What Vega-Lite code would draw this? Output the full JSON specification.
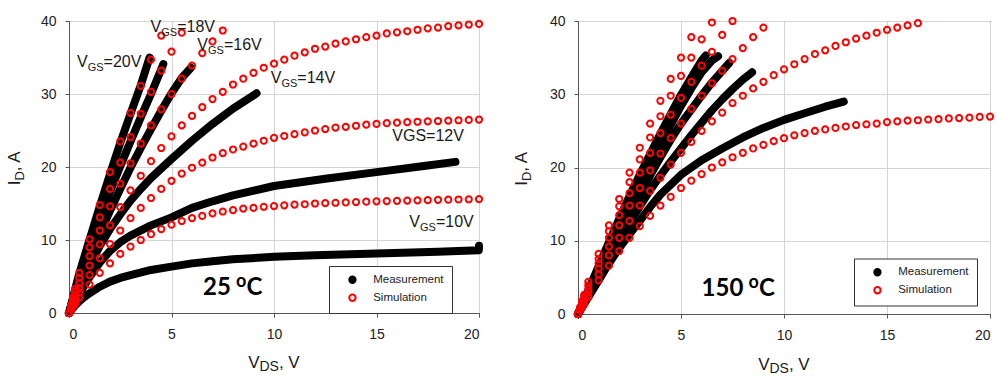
{
"$schema": "https://vega.github.io/schema/vega-lite/v6.json",
"background": "white",
"padding": {"left": 5, "top": 13, "right": 0, "bottom": 0},
"spacing": 25,
"config": {
  "view": {"stroke": "#222", "strokeWidth": 1},
  "axis": {"labelFont": "Liberation Sans", "labelFontSize": 14, "labelColor": "#222", "tickColor": "#555", "tickSize": 4, "domainColor": "#555", "gridColor": "#d4d4d4", "gridWidth": 1},
  "axisX": {"labelPadding": 10},
  "axisY": {"labelPadding": 9},
  "legend": {"padding": 8, "strokeColor": "#333", "fillColor": "white", "symbolOffset": 9.7, "labelOffset": 15, "labelFont": "Liberation Sans", "labelFontSize": 11.5, "labelColor": "#222", "symbolSize": 40, "symbolStrokeWidth": 2, "rowPadding": 3, "symbolType": "circle"}
},
"datasets": {
"meas": [
{"t":25,"g":10,"v":0,"i":0},{"t":25,"g":10,"v":0.25,"i":0.9},{"t":25,"g":10,"v":0.5,"i":1.6},{"t":25,"g":10,"v":0.75,"i":2.2},{"t":25,"g":10,"v":1,"i":2.7},{"t":25,"g":10,"v":1.5,"i":3.6},{"t":25,"g":10,"v":2,"i":4.3},{"t":25,"g":10,"v":2.5,"i":4.8},{"t":25,"g":10,"v":3,"i":5.2},{"t":25,"g":10,"v":4,"i":5.9},{"t":25,"g":10,"v":5,"i":6.35},{"t":25,"g":10,"v":6,"i":6.8},{"t":25,"g":10,"v":7,"i":7.1},{"t":25,"g":10,"v":8,"i":7.35},{"t":25,"g":10,"v":10,"i":7.7},{"t":25,"g":10,"v":12,"i":7.9},{"t":25,"g":10,"v":15,"i":8.15},{"t":25,"g":10,"v":18,"i":8.4},{"t":25,"g":10,"v":19.99,"i":8.6},{"t":25,"g":10,"v":20,"i":9.2},
{"t":25,"g":12,"v":0,"i":0},{"t":25,"g":12,"v":0.25,"i":1.3},{"t":25,"g":12,"v":0.5,"i":2.6},{"t":25,"g":12,"v":1,"i":4.9},{"t":25,"g":12,"v":1.5,"i":6.9},{"t":25,"g":12,"v":2,"i":8.5},{"t":25,"g":12,"v":2.5,"i":9.7},{"t":25,"g":12,"v":3,"i":10.6},{"t":25,"g":12,"v":4,"i":12.0},{"t":25,"g":12,"v":5,"i":13.1},{"t":25,"g":12,"v":6,"i":14.4},{"t":25,"g":12,"v":7,"i":15.3},{"t":25,"g":12,"v":8,"i":16.1},{"t":25,"g":12,"v":10,"i":17.4},{"t":25,"g":12,"v":12.5,"i":18.4},{"t":25,"g":12,"v":15,"i":19.3},{"t":25,"g":12,"v":17.5,"i":20.2},{"t":25,"g":12,"v":18.85,"i":20.7},
{"t":25,"g":14,"v":0,"i":0},{"t":25,"g":14,"v":0.5,"i":3.3},{"t":25,"g":14,"v":1,"i":6.4},{"t":25,"g":14,"v":1.5,"i":9.2},{"t":25,"g":14,"v":2,"i":11.5},{"t":25,"g":14,"v":2.5,"i":13.5},{"t":25,"g":14,"v":3,"i":15.4},{"t":25,"g":14,"v":3.5,"i":17.0},{"t":25,"g":14,"v":4,"i":18.5},{"t":25,"g":14,"v":5,"i":21.1},{"t":25,"g":14,"v":6,"i":23.6},{"t":25,"g":14,"v":7,"i":25.9},{"t":25,"g":14,"v":8,"i":28.0},{"t":25,"g":14,"v":9,"i":29.8},{"t":25,"g":14,"v":9.15,"i":30.1},
{"t":25,"g":16,"v":0,"i":0},{"t":25,"g":16,"v":0.5,"i":4.0},{"t":25,"g":16,"v":1,"i":7.5},{"t":25,"g":16,"v":1.5,"i":10.9},{"t":25,"g":16,"v":2,"i":14.0},{"t":25,"g":16,"v":2.5,"i":17.0},{"t":25,"g":16,"v":3,"i":19.9},{"t":25,"g":16,"v":3.5,"i":22.6},{"t":25,"g":16,"v":4,"i":25.2},{"t":25,"g":16,"v":4.5,"i":27.7},{"t":25,"g":16,"v":5,"i":30.1},{"t":25,"g":16,"v":5.5,"i":32.2},{"t":25,"g":16,"v":5.95,"i":33.6},
{"t":25,"g":18,"v":0,"i":0},{"t":25,"g":18,"v":0.5,"i":4.7},{"t":25,"g":18,"v":1,"i":8.8},{"t":25,"g":18,"v":1.5,"i":12.8},{"t":25,"g":18,"v":2,"i":16.6},{"t":25,"g":18,"v":2.5,"i":20.1},{"t":25,"g":18,"v":3,"i":23.5},{"t":25,"g":18,"v":3.5,"i":26.8},{"t":25,"g":18,"v":4,"i":30.0},{"t":25,"g":18,"v":4.5,"i":33.4},{"t":25,"g":18,"v":4.6,"i":34.1},
{"t":25,"g":20,"v":0,"i":0},{"t":25,"g":20,"v":0.5,"i":5.4},{"t":25,"g":20,"v":1,"i":10.0},{"t":25,"g":20,"v":1.5,"i":14.6},{"t":25,"g":20,"v":2,"i":19.0},{"t":25,"g":20,"v":2.5,"i":23.3},{"t":25,"g":20,"v":3,"i":27.3},{"t":25,"g":20,"v":3.5,"i":31.2},{"t":25,"g":20,"v":3.93,"i":35.0},
{"t":150,"g":12,"v":0,"i":0},{"t":150,"g":12,"v":0.5,"i":2.3},{"t":150,"g":12,"v":1,"i":4.6},{"t":150,"g":12,"v":1.5,"i":6.9},{"t":150,"g":12,"v":2,"i":9.0},{"t":150,"g":12,"v":2.5,"i":10.9},{"t":150,"g":12,"v":3,"i":12.7},{"t":150,"g":12,"v":3.5,"i":14.6},{"t":150,"g":12,"v":4,"i":16.3},{"t":150,"g":12,"v":5,"i":19.0},{"t":150,"g":12,"v":6,"i":21.0},{"t":150,"g":12,"v":7,"i":22.6},{"t":150,"g":12,"v":8,"i":24.1},{"t":150,"g":12,"v":9,"i":25.4},{"t":150,"g":12,"v":10,"i":26.5},{"t":150,"g":12,"v":11,"i":27.4},{"t":150,"g":12,"v":12,"i":28.3},{"t":150,"g":12,"v":12.9,"i":29.0},
{"t":150,"g":14,"v":0,"i":0},{"t":150,"g":14,"v":0.5,"i":2.5},{"t":150,"g":14,"v":1,"i":5.0},{"t":150,"g":14,"v":1.5,"i":7.5},{"t":150,"g":14,"v":2,"i":10.0},{"t":150,"g":14,"v":2.5,"i":12.4},{"t":150,"g":14,"v":3,"i":14.7},{"t":150,"g":14,"v":3.5,"i":16.9},{"t":150,"g":14,"v":4,"i":18.9},{"t":150,"g":14,"v":4.5,"i":20.8},{"t":150,"g":14,"v":5,"i":22.6},{"t":150,"g":14,"v":5.5,"i":24.4},{"t":150,"g":14,"v":6,"i":26.1},{"t":150,"g":14,"v":6.5,"i":27.8},{"t":150,"g":14,"v":7,"i":29.3},{"t":150,"g":14,"v":7.5,"i":30.7},{"t":150,"g":14,"v":8,"i":32.0},{"t":150,"g":14,"v":8.45,"i":33.0},
{"t":150,"g":16,"v":0,"i":0},{"t":150,"g":16,"v":0.5,"i":2.6},{"t":150,"g":16,"v":1,"i":5.3},{"t":150,"g":16,"v":1.5,"i":8.0},{"t":150,"g":16,"v":2,"i":10.8},{"t":150,"g":16,"v":2.5,"i":13.5},{"t":150,"g":16,"v":3,"i":16.2},{"t":150,"g":16,"v":3.5,"i":18.9},{"t":150,"g":16,"v":4,"i":21.4},{"t":150,"g":16,"v":4.5,"i":23.8},{"t":150,"g":16,"v":5,"i":26.0},{"t":150,"g":16,"v":5.5,"i":27.9},{"t":150,"g":16,"v":6,"i":29.8},{"t":150,"g":16,"v":6.5,"i":31.6},{"t":150,"g":16,"v":7,"i":33.2},{"t":150,"g":16,"v":7.35,"i":34.3},
{"t":150,"g":18,"v":0,"i":0},{"t":150,"g":18,"v":0.5,"i":2.9},{"t":150,"g":18,"v":1,"i":5.9},{"t":150,"g":18,"v":1.5,"i":8.9},{"t":150,"g":18,"v":2,"i":11.9},{"t":150,"g":18,"v":2.5,"i":14.8},{"t":150,"g":18,"v":3,"i":17.6},{"t":150,"g":18,"v":3.5,"i":20.4},{"t":150,"g":18,"v":4,"i":23.1},{"t":150,"g":18,"v":4.5,"i":25.8},{"t":150,"g":18,"v":5,"i":28.4},{"t":150,"g":18,"v":5.5,"i":30.8},{"t":150,"g":18,"v":6,"i":33.0},{"t":150,"g":18,"v":6.5,"i":34.6},{"t":150,"g":18,"v":6.8,"i":35.2},
{"t":150,"g":20,"v":0,"i":0},{"t":150,"g":20,"v":0.5,"i":3.2},{"t":150,"g":20,"v":1,"i":6.5},{"t":150,"g":20,"v":1.5,"i":9.8},{"t":150,"g":20,"v":2,"i":13.0},{"t":150,"g":20,"v":2.5,"i":16.1},{"t":150,"g":20,"v":3,"i":19.0},{"t":150,"g":20,"v":3.5,"i":21.8},{"t":150,"g":20,"v":4,"i":24.6},{"t":150,"g":20,"v":4.5,"i":27.3},{"t":150,"g":20,"v":5,"i":29.9},{"t":150,"g":20,"v":5.5,"i":32.3},{"t":150,"g":20,"v":6,"i":34.6},{"t":150,"g":20,"v":6.2,"i":35.3}
],
"sim": [
{"t":25,"g":10,"v":0,"i":0},{"t":25,"g":10,"v":0.1,"i":0.45},{"t":25,"g":10,"v":0.2,"i":0.9},{"t":25,"g":10,"v":0.3,"i":1.3},{"t":25,"g":10,"v":0.5,"i":2.1},{"t":25,"g":10,"v":1,"i":3.9},{"t":25,"g":10,"v":1.5,"i":5.5},{"t":25,"g":10,"v":2,"i":6.8},{"t":25,"g":10,"v":2.5,"i":8.1},{"t":25,"g":10,"v":3,"i":9.1},{"t":25,"g":10,"v":3.5,"i":10.0},{"t":25,"g":10,"v":4,"i":10.8},{"t":25,"g":10,"v":4.5,"i":11.5},{"t":25,"g":10,"v":5,"i":12.1},{"t":25,"g":10,"v":5.5,"i":12.6},{"t":25,"g":10,"v":6,"i":13.0},{"t":25,"g":10,"v":6.5,"i":13.3},{"t":25,"g":10,"v":7,"i":13.65},{"t":25,"g":10,"v":7.5,"i":13.9},{"t":25,"g":10,"v":8,"i":14.1},{"t":25,"g":10,"v":8.5,"i":14.3},{"t":25,"g":10,"v":9,"i":14.4},{"t":25,"g":10,"v":9.5,"i":14.55},{"t":25,"g":10,"v":10,"i":14.65},{"t":25,"g":10,"v":10.5,"i":14.75},{"t":25,"g":10,"v":11,"i":14.85},{"t":25,"g":10,"v":11.5,"i":14.9},{"t":25,"g":10,"v":12,"i":15.0},{"t":25,"g":10,"v":12.5,"i":15.05},{"t":25,"g":10,"v":13,"i":15.1},{"t":25,"g":10,"v":13.5,"i":15.15},{"t":25,"g":10,"v":14,"i":15.2},{"t":25,"g":10,"v":14.5,"i":15.25},{"t":25,"g":10,"v":15,"i":15.3},{"t":25,"g":10,"v":15.5,"i":15.33},{"t":25,"g":10,"v":16,"i":15.37},{"t":25,"g":10,"v":16.5,"i":15.4},{"t":25,"g":10,"v":17,"i":15.43},{"t":25,"g":10,"v":17.5,"i":15.46},{"t":25,"g":10,"v":18,"i":15.5},{"t":25,"g":10,"v":18.5,"i":15.52},{"t":25,"g":10,"v":19,"i":15.55},{"t":25,"g":10,"v":19.5,"i":15.58},{"t":25,"g":10,"v":20,"i":15.6},
{"t":25,"g":12,"v":0,"i":0},{"t":25,"g":12,"v":0.1,"i":0.6},{"t":25,"g":12,"v":0.2,"i":1.15},{"t":25,"g":12,"v":0.3,"i":1.7},{"t":25,"g":12,"v":0.5,"i":2.8},{"t":25,"g":12,"v":1,"i":5.2},{"t":25,"g":12,"v":1.5,"i":7.5},{"t":25,"g":12,"v":2,"i":9.45},{"t":25,"g":12,"v":2.5,"i":11.3},{"t":25,"g":12,"v":3,"i":13.0},{"t":25,"g":12,"v":3.5,"i":14.4},{"t":25,"g":12,"v":4,"i":15.75},{"t":25,"g":12,"v":4.5,"i":17.0},{"t":25,"g":12,"v":5,"i":18.1},{"t":25,"g":12,"v":5.5,"i":19.1},{"t":25,"g":12,"v":6,"i":19.9},{"t":25,"g":12,"v":6.5,"i":20.6},{"t":25,"g":12,"v":7,"i":21.3},{"t":25,"g":12,"v":7.5,"i":21.9},{"t":25,"g":12,"v":8,"i":22.4},{"t":25,"g":12,"v":8.5,"i":22.8},{"t":25,"g":12,"v":9,"i":23.2},{"t":25,"g":12,"v":9.5,"i":23.6},{"t":25,"g":12,"v":10,"i":24.0},{"t":25,"g":12,"v":10.5,"i":24.25},{"t":25,"g":12,"v":11,"i":24.5},{"t":25,"g":12,"v":11.5,"i":24.75},{"t":25,"g":12,"v":12,"i":25.0},{"t":25,"g":12,"v":12.5,"i":25.2},{"t":25,"g":12,"v":13,"i":25.4},{"t":25,"g":12,"v":13.5,"i":25.5},{"t":25,"g":12,"v":14,"i":25.65},{"t":25,"g":12,"v":14.5,"i":25.8},{"t":25,"g":12,"v":15,"i":25.9},{"t":25,"g":12,"v":15.5,"i":26.0},{"t":25,"g":12,"v":16,"i":26.07},{"t":25,"g":12,"v":16.5,"i":26.15},{"t":25,"g":12,"v":17,"i":26.2},{"t":25,"g":12,"v":17.5,"i":26.25},{"t":25,"g":12,"v":18,"i":26.3},{"t":25,"g":12,"v":18.5,"i":26.35},{"t":25,"g":12,"v":19,"i":26.4},{"t":25,"g":12,"v":19.5,"i":26.45},{"t":25,"g":12,"v":20,"i":26.5},
{"t":25,"g":14,"v":0,"i":0},{"t":25,"g":14,"v":0.1,"i":0.7},{"t":25,"g":14,"v":0.2,"i":1.4},{"t":25,"g":14,"v":0.3,"i":2.1},{"t":25,"g":14,"v":0.5,"i":3.4},{"t":25,"g":14,"v":1,"i":6.5},{"t":25,"g":14,"v":1.5,"i":9.4},{"t":25,"g":14,"v":2,"i":12.0},{"t":25,"g":14,"v":2.5,"i":14.5},{"t":25,"g":14,"v":3,"i":16.8},{"t":25,"g":14,"v":3.5,"i":18.8},{"t":25,"g":14,"v":4,"i":20.8},{"t":25,"g":14,"v":4.5,"i":22.6},{"t":25,"g":14,"v":5,"i":24.2},{"t":25,"g":14,"v":5.5,"i":25.7},{"t":25,"g":14,"v":6,"i":27.0},{"t":25,"g":14,"v":6.5,"i":28.2},{"t":25,"g":14,"v":7,"i":29.3},{"t":25,"g":14,"v":7.5,"i":30.3},{"t":25,"g":14,"v":8,"i":31.3},{"t":25,"g":14,"v":8.5,"i":32.1},{"t":25,"g":14,"v":9,"i":32.9},{"t":25,"g":14,"v":9.5,"i":33.6},{"t":25,"g":14,"v":10,"i":34.15},{"t":25,"g":14,"v":10.5,"i":34.7},{"t":25,"g":14,"v":11,"i":35.25},{"t":25,"g":14,"v":11.5,"i":35.7},{"t":25,"g":14,"v":12,"i":36.2},{"t":25,"g":14,"v":12.5,"i":36.5},{"t":25,"g":14,"v":13,"i":36.9},{"t":25,"g":14,"v":13.5,"i":37.2},{"t":25,"g":14,"v":14,"i":37.5},{"t":25,"g":14,"v":14.5,"i":37.8},{"t":25,"g":14,"v":15,"i":38.0},{"t":25,"g":14,"v":15.5,"i":38.3},{"t":25,"g":14,"v":16,"i":38.45},{"t":25,"g":14,"v":16.5,"i":38.6},{"t":25,"g":14,"v":17,"i":38.8},{"t":25,"g":14,"v":17.5,"i":39.0},{"t":25,"g":14,"v":18,"i":39.1},{"t":25,"g":14,"v":18.5,"i":39.3},{"t":25,"g":14,"v":19,"i":39.4},{"t":25,"g":14,"v":19.5,"i":39.5},{"t":25,"g":14,"v":20,"i":39.6},
{"t":25,"g":16,"v":0,"i":0},{"t":25,"g":16,"v":0.1,"i":0.85},{"t":25,"g":16,"v":0.2,"i":1.7},{"t":25,"g":16,"v":0.3,"i":2.5},{"t":25,"g":16,"v":0.5,"i":4.1},{"t":25,"g":16,"v":1,"i":7.8},{"t":25,"g":16,"v":1.5,"i":11.3},{"t":25,"g":16,"v":2,"i":14.6},{"t":25,"g":16,"v":2.5,"i":17.7},{"t":25,"g":16,"v":3,"i":20.5},{"t":25,"g":16,"v":3.5,"i":23.2},{"t":25,"g":16,"v":4,"i":25.7},{"t":25,"g":16,"v":4.5,"i":27.9},{"t":25,"g":16,"v":5,"i":30.0},{"t":25,"g":16,"v":5.5,"i":32.1},{"t":25,"g":16,"v":6,"i":33.9},{"t":25,"g":16,"v":6.5,"i":35.6},{"t":25,"g":16,"v":7,"i":37.2},{"t":25,"g":16,"v":7.5,"i":38.7},
{"t":25,"g":18,"v":0,"i":0},{"t":25,"g":18,"v":0.1,"i":1.0},{"t":25,"g":18,"v":0.2,"i":1.95},{"t":25,"g":18,"v":0.3,"i":2.9},{"t":25,"g":18,"v":0.5,"i":4.8},{"t":25,"g":18,"v":1,"i":9.0},{"t":25,"g":18,"v":1.5,"i":13.1},{"t":25,"g":18,"v":2,"i":17.0},{"t":25,"g":18,"v":2.5,"i":20.6},{"t":25,"g":18,"v":3,"i":24.1},{"t":25,"g":18,"v":3.5,"i":27.3},{"t":25,"g":18,"v":4,"i":30.3},{"t":25,"g":18,"v":4.5,"i":33.2},{"t":25,"g":18,"v":5,"i":35.8},{"t":25,"g":18,"v":5.5,"i":38.4},
{"t":25,"g":20,"v":0,"i":0},{"t":25,"g":20,"v":0.1,"i":1.1},{"t":25,"g":20,"v":0.2,"i":2.2},{"t":25,"g":20,"v":0.3,"i":3.3},{"t":25,"g":20,"v":0.5,"i":5.5},{"t":25,"g":20,"v":1,"i":10.1},{"t":25,"g":20,"v":1.5,"i":14.8},{"t":25,"g":20,"v":2,"i":19.3},{"t":25,"g":20,"v":2.5,"i":23.5},{"t":25,"g":20,"v":3,"i":27.4},{"t":25,"g":20,"v":3.5,"i":31.1},{"t":25,"g":20,"v":4,"i":34.7},{"t":25,"g":20,"v":4.5,"i":38.0},
{"t":150,"g":10,"v":0,"i":0},{"t":150,"g":10,"v":0.1,"i":0.45},{"t":150,"g":10,"v":0.2,"i":0.9},{"t":150,"g":10,"v":0.3,"i":1.4},{"t":150,"g":10,"v":0.5,"i":2.3},{"t":150,"g":10,"v":1,"i":4.6},{"t":150,"g":10,"v":1.5,"i":6.6},{"t":150,"g":10,"v":2,"i":8.6},{"t":150,"g":10,"v":2.5,"i":10.4},{"t":150,"g":10,"v":3,"i":12.0},{"t":150,"g":10,"v":3.5,"i":13.4},{"t":150,"g":10,"v":4,"i":14.8},{"t":150,"g":10,"v":4.5,"i":16.0},{"t":150,"g":10,"v":5,"i":17.2},{"t":150,"g":10,"v":5.5,"i":18.2},{"t":150,"g":10,"v":6,"i":19.1},{"t":150,"g":10,"v":6.5,"i":20.0},{"t":150,"g":10,"v":7,"i":20.7},{"t":150,"g":10,"v":7.5,"i":21.4},{"t":150,"g":10,"v":8,"i":22.0},{"t":150,"g":10,"v":8.5,"i":22.6},{"t":150,"g":10,"v":9,"i":23.1},{"t":150,"g":10,"v":9.5,"i":23.6},{"t":150,"g":10,"v":10,"i":24.0},{"t":150,"g":10,"v":10.5,"i":24.4},{"t":150,"g":10,"v":11,"i":24.7},{"t":150,"g":10,"v":11.5,"i":25.0},{"t":150,"g":10,"v":12,"i":25.2},{"t":150,"g":10,"v":12.5,"i":25.4},{"t":150,"g":10,"v":13,"i":25.6},{"t":150,"g":10,"v":13.5,"i":25.8},{"t":150,"g":10,"v":14,"i":25.9},{"t":150,"g":10,"v":14.5,"i":26.0},{"t":150,"g":10,"v":15,"i":26.2},{"t":150,"g":10,"v":15.5,"i":26.3},{"t":150,"g":10,"v":16,"i":26.4},{"t":150,"g":10,"v":16.5,"i":26.45},{"t":150,"g":10,"v":17,"i":26.55},{"t":150,"g":10,"v":17.5,"i":26.6},{"t":150,"g":10,"v":18,"i":26.7},{"t":150,"g":10,"v":18.5,"i":26.75},{"t":150,"g":10,"v":19,"i":26.8},{"t":150,"g":10,"v":19.5,"i":26.9},{"t":150,"g":10,"v":20,"i":26.95},
{"t":150,"g":12,"v":0,"i":0},{"t":150,"g":12,"v":0.1,"i":0.55},{"t":150,"g":12,"v":0.2,"i":1.05},{"t":150,"g":12,"v":0.3,"i":1.6},{"t":150,"g":12,"v":0.5,"i":2.6},{"t":150,"g":12,"v":1,"i":5.4},{"t":150,"g":12,"v":1.5,"i":8.0},{"t":150,"g":12,"v":2,"i":10.4},{"t":150,"g":12,"v":2.5,"i":12.7},{"t":150,"g":12,"v":3,"i":14.8},{"t":150,"g":12,"v":3.5,"i":16.8},{"t":150,"g":12,"v":4,"i":18.6},{"t":150,"g":12,"v":4.5,"i":20.4},{"t":150,"g":12,"v":5,"i":22.0},{"t":150,"g":12,"v":5.5,"i":23.5},{"t":150,"g":12,"v":6,"i":25.0},{"t":150,"g":12,"v":6.5,"i":26.3},{"t":150,"g":12,"v":7,"i":27.5},{"t":150,"g":12,"v":7.5,"i":28.8},{"t":150,"g":12,"v":8,"i":29.8},{"t":150,"g":12,"v":8.5,"i":30.8},{"t":150,"g":12,"v":9,"i":31.7},{"t":150,"g":12,"v":9.5,"i":32.6},{"t":150,"g":12,"v":10,"i":33.4},{"t":150,"g":12,"v":10.5,"i":34.1},{"t":150,"g":12,"v":11,"i":34.8},{"t":150,"g":12,"v":11.5,"i":35.5},{"t":150,"g":12,"v":12,"i":36.0},{"t":150,"g":12,"v":12.5,"i":36.6},{"t":150,"g":12,"v":13,"i":37.1},{"t":150,"g":12,"v":13.5,"i":37.6},{"t":150,"g":12,"v":14,"i":38.0},{"t":150,"g":12,"v":14.5,"i":38.4},{"t":150,"g":12,"v":15,"i":38.8},{"t":150,"g":12,"v":15.5,"i":39.1},{"t":150,"g":12,"v":16,"i":39.4},{"t":150,"g":12,"v":16.5,"i":39.7},
{"t":150,"g":14,"v":0,"i":0},{"t":150,"g":14,"v":0.1,"i":0.6},{"t":150,"g":14,"v":0.2,"i":1.2},{"t":150,"g":14,"v":0.3,"i":1.8},{"t":150,"g":14,"v":0.5,"i":3.0},{"t":150,"g":14,"v":1,"i":6.2},{"t":150,"g":14,"v":1.5,"i":9.2},{"t":150,"g":14,"v":2,"i":12.1},{"t":150,"g":14,"v":2.5,"i":14.8},{"t":150,"g":14,"v":3,"i":17.2},{"t":150,"g":14,"v":3.5,"i":19.6},{"t":150,"g":14,"v":4,"i":21.9},{"t":150,"g":14,"v":4.5,"i":24.0},{"t":150,"g":14,"v":5,"i":26.0},{"t":150,"g":14,"v":5.5,"i":28.0},{"t":150,"g":14,"v":6,"i":29.8},{"t":150,"g":14,"v":6.5,"i":31.5},{"t":150,"g":14,"v":7,"i":33.2},{"t":150,"g":14,"v":7.5,"i":34.8},{"t":150,"g":14,"v":8,"i":36.3},{"t":150,"g":14,"v":8.5,"i":37.8},{"t":150,"g":14,"v":9,"i":39.1},
{"t":150,"g":16,"v":0,"i":0},{"t":150,"g":16,"v":0.1,"i":0.7},{"t":150,"g":16,"v":0.2,"i":1.4},{"t":150,"g":16,"v":0.3,"i":2.1},{"t":150,"g":16,"v":0.5,"i":3.4},{"t":150,"g":16,"v":1,"i":6.9},{"t":150,"g":16,"v":1.5,"i":10.4},{"t":150,"g":16,"v":2,"i":13.5},{"t":150,"g":16,"v":2.5,"i":16.5},{"t":150,"g":16,"v":3,"i":19.3},{"t":150,"g":16,"v":3.5,"i":22.0},{"t":150,"g":16,"v":4,"i":24.7},{"t":150,"g":16,"v":4.5,"i":27.2},{"t":150,"g":16,"v":5,"i":29.5},{"t":150,"g":16,"v":5.5,"i":31.7},{"t":150,"g":16,"v":6,"i":33.9},{"t":150,"g":16,"v":6.5,"i":35.8},{"t":150,"g":16,"v":7,"i":38.1},{"t":150,"g":16,"v":7.5,"i":40.0},
{"t":150,"g":18,"v":0,"i":0},{"t":150,"g":18,"v":0.1,"i":0.8},{"t":150,"g":18,"v":0.2,"i":1.55},{"t":150,"g":18,"v":0.3,"i":2.35},{"t":150,"g":18,"v":0.5,"i":3.9},{"t":150,"g":18,"v":1,"i":7.5},{"t":150,"g":18,"v":1.5,"i":11.3},{"t":150,"g":18,"v":2,"i":14.7},{"t":150,"g":18,"v":2.5,"i":18.0},{"t":150,"g":18,"v":3,"i":21.1},{"t":150,"g":18,"v":3.5,"i":24.1},{"t":150,"g":18,"v":4,"i":27.0},{"t":150,"g":18,"v":4.5,"i":29.8},{"t":150,"g":18,"v":5,"i":32.5},{"t":150,"g":18,"v":5.5,"i":35.0},{"t":150,"g":18,"v":6,"i":37.5},{"t":150,"g":18,"v":6.5,"i":39.8},
{"t":150,"g":20,"v":0,"i":0},{"t":150,"g":20,"v":0.1,"i":0.9},{"t":150,"g":20,"v":0.2,"i":1.75},{"t":150,"g":20,"v":0.3,"i":2.6},{"t":150,"g":20,"v":0.5,"i":4.4},{"t":150,"g":20,"v":1,"i":8.2},{"t":150,"g":20,"v":1.5,"i":12.1},{"t":150,"g":20,"v":2,"i":15.7},{"t":150,"g":20,"v":2.5,"i":19.3},{"t":150,"g":20,"v":3,"i":22.7},{"t":150,"g":20,"v":3.5,"i":26.0},{"t":150,"g":20,"v":4,"i":29.1},{"t":150,"g":20,"v":4.5,"i":32.1},{"t":150,"g":20,"v":5,"i":35.0},{"t":150,"g":20,"v":5.5,"i":37.8}
],
"lab": [
{"v":0.39,"i":33.7,"p":"V","s":"GS","q":"=20V"},
{"v":3.98,"i":38.5,"p":"V","s":"GS","q":"=18V"},
{"v":6.26,"i":36.0,"p":"V","s":"GS","q":"=16V"},
{"v":9.84,"i":31.5,"p":"V","s":"GS","q":"=14V"},
{"v":15.77,"i":23.5,"p":"VGS=12V","s":"","q":""},
{"v":16.6,"i":11.8,"p":"V","s":"GS","q":"=10V"}
],
"temp": [
{"t":25,"v":6.54,"i":2.47,"n":"25"},
{"t":150,"v":6.0,"i":2.5,"n":"150"}
],
"xt": [{"t":25,"v":10,"i":-7.5},{"t":150,"v":10,"i":-7.6}],
"yt": [{"t":25,"v":-2.39,"i":17.5},{"t":150,"v":-2.46,"i":17.5}]
},
"resolve": {"scale": {"fill": "independent", "stroke": "independent"}, "legend": {"fill": "independent", "stroke": "independent"}},
"hconcat": [
{
 "width": 410, "height": 292,
 "encoding": {
  "x": {"field": "v", "type": "quantitative", "scale": {"domain": [0, 20], "nice": false, "zero": false}, "axis": {"values": [0, 5, 10, 15, 20], "grid": true, "title": null}},
  "y": {"field": "i", "type": "quantitative", "scale": {"domain": [0, 40], "nice": false}, "axis": {"values": [0, 10, 20, 30, 40], "grid": true, "title": null}}
 },
 "layer": [
  {"data": {"name": "meas"}, "transform": [{"filter": "datum.t == 25"}], "mark": {"type": "line", "color": "black", "strokeWidth": 8, "strokeCap": "round", "strokeJoin": "round"}, "encoding": {"detail": {"field": "g", "type": "nominal"}}},
  {"data": {"name": "sim"}, "transform": [{"filter": "datum.t == 25"}], "mark": {"type": "point", "shape": "circle", "size": 38, "strokeWidth": 2, "filled": true, "opacity": 1},
   "encoding": {
    "fill": {"datum": "Simulation", "type": "nominal", "scale": {"domain": ["Measurement", "Simulation"], "range": ["black", "transparent"]}, "legend": {"title": null, "orient": "none", "legendX": 260, "legendY": 245}},
    "stroke": {"datum": "Simulation", "type": "nominal", "scale": {"domain": ["Measurement", "Simulation"], "range": ["black", "red"]}, "legend": {"title": null, "orient": "none", "legendX": 260, "legendY": 245}}
   }},
  {"data": {"name": "lab"}, "mark": {"type": "text", "align": "left", "baseline": "alphabetic", "font": "Liberation Sans", "fontSize": 16, "color": "#1a1a1a"}, "encoding": {"text": {"field": "p"}}},
  {"data": {"name": "lab"}, "mark": {"type": "text", "align": "left", "baseline": "alphabetic", "font": "Liberation Sans", "fontSize": 11, "dx": 10.7, "dy": 4, "color": "#1a1a1a"}, "encoding": {"text": {"field": "s"}}},
  {"data": {"name": "lab"}, "mark": {"type": "text", "align": "left", "baseline": "alphabetic", "font": "Liberation Sans", "fontSize": 16, "dx": 26.6, "color": "#1a1a1a"}, "encoding": {"text": {"field": "q"}}},
  {"data": {"name": "temp"}, "transform": [{"filter": "datum.t == 25"}], "mark": {"type": "text", "align": "left", "baseline": "alphabetic", "font": "Lato", "fontWeight": "bold", "fontSize": 24, "color": "black"}, "encoding": {"text": {"field": "n"}}},
  {"data": {"name": "temp"}, "transform": [{"filter": "datum.t == 25"}], "mark": {"type": "text", "text": "o", "align": "left", "baseline": "alphabetic", "font": "Lato", "fontWeight": "bold", "fontSize": 18, "dx": 33, "dy": -8, "color": "black"}},
  {"data": {"name": "temp"}, "transform": [{"filter": "datum.t == 25"}], "mark": {"type": "text", "text": "C", "align": "left", "baseline": "alphabetic", "font": "Lato", "fontWeight": "bold", "fontSize": 24, "dx": 43.5, "color": "black"}},
  {"data": {"name": "yt"}, "transform": [{"filter": "datum.t == 25"}], "mark": {"type": "text", "text": "I", "angle": 270, "align": "left", "baseline": "alphabetic", "font": "Liberation Sans", "fontSize": 17, "color": "#1a1a1a"}},
  {"data": {"name": "yt"}, "transform": [{"filter": "datum.t == 25"}], "mark": {"type": "text", "text": "D", "angle": 270, "align": "left", "baseline": "alphabetic", "font": "Liberation Sans", "fontSize": 13, "dx": 4.7, "dy": 4, "color": "#1a1a1a"}},
  {"data": {"name": "yt"}, "transform": [{"filter": "datum.t == 25"}], "mark": {"type": "text", "text": ", A", "angle": 270, "align": "left", "baseline": "alphabetic", "font": "Liberation Sans", "fontSize": 17, "dx": 14.1, "color": "#1a1a1a"}},
  {"data": {"name": "xt"}, "transform": [{"filter": "datum.t == 25"}], "mark": {"type": "text", "text": "V", "align": "left", "baseline": "alphabetic", "font": "Liberation Sans", "fontSize": 17, "dx": -25.8, "color": "#1a1a1a"}},
  {"data": {"name": "xt"}, "transform": [{"filter": "datum.t == 25"}], "mark": {"type": "text", "text": "DS", "align": "left", "baseline": "alphabetic", "font": "Liberation Sans", "fontSize": 14, "dx": -14.5, "dy": 3, "color": "#1a1a1a"}},
  {"data": {"name": "xt"}, "transform": [{"filter": "datum.t == 25"}], "mark": {"type": "text", "text": ", V", "align": "left", "baseline": "alphabetic", "font": "Liberation Sans", "fontSize": 17, "dx": 4.9, "color": "#1a1a1a"}}
 ]
},
{
 "width": 412, "height": 293,
 "encoding": {
  "x": {"field": "v", "type": "quantitative", "scale": {"domain": [0, 20], "nice": false, "zero": false}, "axis": {"values": [0, 5, 10, 15, 20], "grid": true, "title": null}},
  "y": {"field": "i", "type": "quantitative", "scale": {"domain": [0, 40], "nice": false}, "axis": {"values": [0, 10, 20, 30, 40], "grid": true, "title": null}}
 },
 "layer": [
  {"data": {"name": "meas"}, "transform": [{"filter": "datum.t == 150"}], "mark": {"type": "line", "color": "black", "strokeWidth": 8, "strokeCap": "round", "strokeJoin": "round"}, "encoding": {"detail": {"field": "g", "type": "nominal"}}},
  {"data": {"name": "sim"}, "transform": [{"filter": "datum.t == 150"}], "mark": {"type": "point", "shape": "circle", "size": 38, "strokeWidth": 2, "filled": true, "opacity": 1},
   "encoding": {
    "fill": {"datum": "Simulation", "type": "nominal", "scale": {"domain": ["Measurement", "Simulation"], "range": ["black", "transparent"]}, "legend": {"title": null, "orient": "none", "legendX": 276, "legendY": 237.5}},
    "stroke": {"datum": "Simulation", "type": "nominal", "scale": {"domain": ["Measurement", "Simulation"], "range": ["black", "red"]}, "legend": {"title": null, "orient": "none", "legendX": 276, "legendY": 237.5}}
   }},
  {"data": {"name": "temp"}, "transform": [{"filter": "datum.t == 150"}], "mark": {"type": "text", "align": "left", "baseline": "alphabetic", "font": "Lato", "fontWeight": "bold", "fontSize": 24, "color": "black"}, "encoding": {"text": {"field": "n"}}},
  {"data": {"name": "temp"}, "transform": [{"filter": "datum.t == 150"}], "mark": {"type": "text", "text": "o", "align": "left", "baseline": "alphabetic", "font": "Lato", "fontWeight": "bold", "fontSize": 18, "dx": 47, "dy": -8, "color": "black"}},
  {"data": {"name": "temp"}, "transform": [{"filter": "datum.t == 150"}], "mark": {"type": "text", "text": "C", "align": "left", "baseline": "alphabetic", "font": "Lato", "fontWeight": "bold", "fontSize": 24, "dx": 57.5, "color": "black"}},
  {"data": {"name": "yt"}, "transform": [{"filter": "datum.t == 150"}], "mark": {"type": "text", "text": "I", "angle": 270, "align": "left", "baseline": "alphabetic", "font": "Liberation Sans", "fontSize": 17, "color": "#1a1a1a"}},
  {"data": {"name": "yt"}, "transform": [{"filter": "datum.t == 150"}], "mark": {"type": "text", "text": "D", "angle": 270, "align": "left", "baseline": "alphabetic", "font": "Liberation Sans", "fontSize": 13, "dx": 4.7, "dy": 4, "color": "#1a1a1a"}},
  {"data": {"name": "yt"}, "transform": [{"filter": "datum.t == 150"}], "mark": {"type": "text", "text": ", A", "angle": 270, "align": "left", "baseline": "alphabetic", "font": "Liberation Sans", "fontSize": 17, "dx": 14.1, "color": "#1a1a1a"}},
  {"data": {"name": "xt"}, "transform": [{"filter": "datum.t == 150"}], "mark": {"type": "text", "text": "V", "align": "left", "baseline": "alphabetic", "font": "Liberation Sans", "fontSize": 17, "dx": -25.8, "color": "#1a1a1a"}},
  {"data": {"name": "xt"}, "transform": [{"filter": "datum.t == 150"}], "mark": {"type": "text", "text": "DS", "align": "left", "baseline": "alphabetic", "font": "Liberation Sans", "fontSize": 14, "dx": -14.5, "dy": 3, "color": "#1a1a1a"}},
  {"data": {"name": "xt"}, "transform": [{"filter": "datum.t == 150"}], "mark": {"type": "text", "text": ", V", "align": "left", "baseline": "alphabetic", "font": "Liberation Sans", "fontSize": 17, "dx": 4.9, "color": "#1a1a1a"}}
 ]
}
]
}
